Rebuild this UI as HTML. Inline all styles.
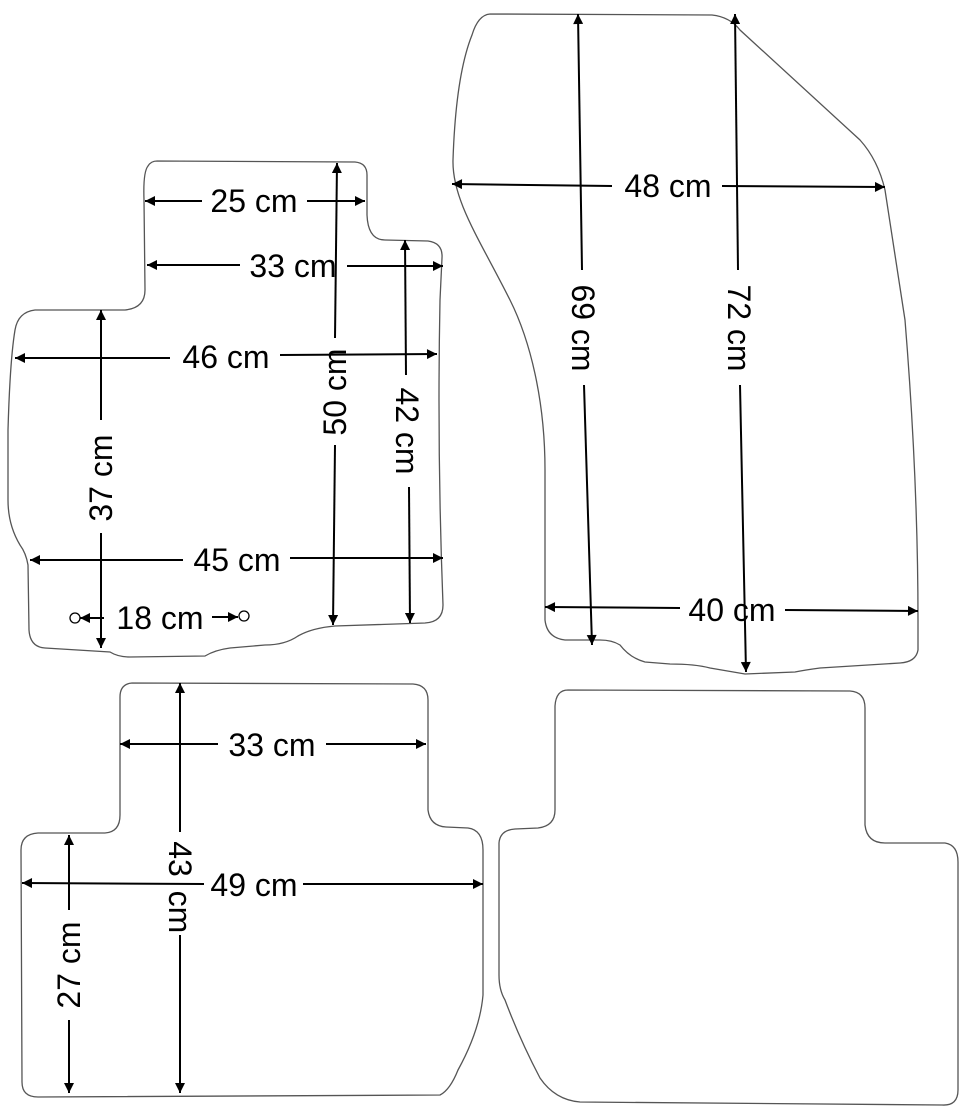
<!DOCTYPE html>
<html><head><style>
html,body{margin:0;padding:0;background:#fff}
text{font-family:"Liberation Sans",Arial,sans-serif;font-size:32px;fill:#000}
</style></head><body>
<svg width="970" height="1108" viewBox="0 0 970 1108" xmlns="http://www.w3.org/2000/svg">
<defs>
<marker id="a" viewBox="0 0 10 10" refX="10" refY="5" markerWidth="12" markerHeight="10" markerUnits="userSpaceOnUse" orient="auto-start-reverse">
<path d="M0,0 L10,5 L0,10 z" fill="#000"/></marker>
</defs>
<g fill="none" stroke="#555" stroke-width="1.3">
<!-- mat 1 -->
<path d="M157,161 L355,162 Q367,163 367,175 L367,215 Q368,240 385,240 L428,241 Q443,243 442,258 L440,300 Q437,450 443,605 Q443,622 425,623 L335,626 Q312,628 298,636 Q285,645 265,645 L230,648 Q215,650 205,656 L130,657 Q118,657 110,652 L45,648 Q30,647 29,630 L28,565 Q26,553 20,545 Q8,525 8,500 L8,430 Q10,360 15,330 Q18,312 35,310 L125,310 Q145,308 145,290 L144,200 Q143,172 148,166 Q151,161 157,161 Z"/>
<!-- mat 2 -->
<path d="M490,14 L712,15 Q730,17 740,30 L860,140 Q878,160 885,190 L905,320 Q918,480 918,620 L918,650 Q916,662 900,663 L820,668 Q805,670 795,672 L745,674 L710,668 Q695,664 670,664 L645,662 Q630,658 620,645 Q612,640 600,640 L565,640 Q547,638 545,620 L545,470 C545,400 530,340 510,300 C480,240 452,200 453,160 C455,100 462,60 472,35 Q478,15 490,14 Z"/>
<!-- mat 3 -->
<path d="M132,683 L413,684 Q428,685 428,700 L428,810 Q430,826 446,827 L468,828 Q483,830 483,850 L483,995 Q480,1030 458,1070 Q450,1090 440,1095 L38,1097 Q22,1097 22,1082 L21,850 Q21,834 38,833 L105,833 Q120,832 120,815 L120,697 Q120,684 132,683 Z"/>
<!-- mat 4 -->
<path d="M568,690 L850,691 Q865,692 865,708 L865,825 Q867,843 885,843 L945,843 Q958,845 958,862 L958,1090 Q958,1106 942,1105 L580,1102 Q555,1100 540,1078 Q520,1040 505,1000 Q499,990 499,975 L499,843 Q500,830 515,829 L538,828 Q555,826 555,810 L555,706 Q556,690 568,690 Z"/>
</g>
<g stroke="#000" stroke-width="2" fill="none">
<line x1="202" y1="201" x2="145" y2="201" marker-end="url(#a)"/>
<line x1="307" y1="201" x2="365" y2="201" marker-end="url(#a)"/>
<line x1="240" y1="265" x2="147" y2="265" marker-end="url(#a)"/>
<line x1="347" y1="266" x2="443" y2="266" marker-end="url(#a)"/>
<line x1="170" y1="358" x2="15" y2="358" marker-end="url(#a)"/>
<line x1="280" y1="355" x2="437" y2="354" marker-end="url(#a)"/>
<line x1="183" y1="560" x2="30" y2="560" marker-end="url(#a)"/>
<line x1="290" y1="558" x2="443" y2="558" marker-end="url(#a)"/>
<line x1="104" y1="618" x2="80" y2="618" marker-end="url(#a)"/>
<line x1="212" y1="617" x2="238" y2="617" marker-end="url(#a)"/>
<line x1="101" y1="420" x2="101" y2="310" marker-end="url(#a)"/>
<line x1="101" y1="533" x2="101" y2="648" marker-end="url(#a)"/>
<line x1="335" y1="338" x2="337" y2="163" marker-end="url(#a)"/>
<line x1="335" y1="445" x2="333" y2="625" marker-end="url(#a)"/>
<line x1="406" y1="375" x2="405" y2="240" marker-end="url(#a)"/>
<line x1="409" y1="487" x2="410" y2="623" marker-end="url(#a)"/>
<line x1="612" y1="186" x2="452" y2="184" marker-end="url(#a)"/>
<line x1="722" y1="186" x2="885" y2="187" marker-end="url(#a)"/>
<line x1="582" y1="270" x2="578" y2="14" marker-end="url(#a)"/>
<line x1="584" y1="385" x2="592" y2="645" marker-end="url(#a)"/>
<line x1="738" y1="270" x2="735" y2="14" marker-end="url(#a)"/>
<line x1="740" y1="385" x2="746" y2="672" marker-end="url(#a)"/>
<line x1="680" y1="608" x2="545" y2="607" marker-end="url(#a)"/>
<line x1="785" y1="610" x2="918" y2="611" marker-end="url(#a)"/>
<line x1="218" y1="744" x2="120" y2="744" marker-end="url(#a)"/>
<line x1="326" y1="744" x2="426" y2="744" marker-end="url(#a)"/>
<line x1="204" y1="884" x2="22" y2="883" marker-end="url(#a)"/>
<line x1="303" y1="884" x2="483" y2="884" marker-end="url(#a)"/>
<line x1="180" y1="832" x2="180" y2="683" marker-end="url(#a)"/>
<line x1="180" y1="935" x2="180" y2="1093" marker-end="url(#a)"/>
<line x1="69" y1="910" x2="69" y2="835" marker-end="url(#a)"/>
<line x1="69" y1="1020" x2="69" y2="1093" marker-end="url(#a)"/>
</g>
<g stroke="#000" stroke-width="1.3" fill="#fff">
<circle cx="75" cy="618" r="5"/><circle cx="244" cy="616" r="5"/>
</g>
<text x="254" y="212" text-anchor="middle">25 cm</text>
<text x="293" y="277" text-anchor="middle">33 cm</text>
<text x="226" y="368" text-anchor="middle">46 cm</text>
<text x="237" y="571" text-anchor="middle">45 cm</text>
<text x="160" y="629" text-anchor="middle">18 cm</text>
<text transform="translate(112,478) rotate(-90)" text-anchor="middle">37 cm</text>
<text transform="translate(346,392) rotate(-90)" text-anchor="middle">50 cm</text>
<text transform="translate(396,431) rotate(90)" text-anchor="middle">42 cm</text>
<text x="668" y="197" text-anchor="middle">48 cm</text>
<text transform="translate(572,328) rotate(90)" text-anchor="middle">69 cm</text>
<text transform="translate(728,328) rotate(90)" text-anchor="middle">72 cm</text>
<text x="732" y="621" text-anchor="middle">40 cm</text>
<text x="272" y="756" text-anchor="middle">33 cm</text>
<text x="254" y="896" text-anchor="middle">49 cm</text>
<text transform="translate(169,859) rotate(90)" text-anchor="middle">43</text>
<text transform="translate(169,912) rotate(90)" text-anchor="middle">cm</text>
<text transform="translate(80,965) rotate(-90)" text-anchor="middle">27 cm</text>
</svg>
</body></html>
